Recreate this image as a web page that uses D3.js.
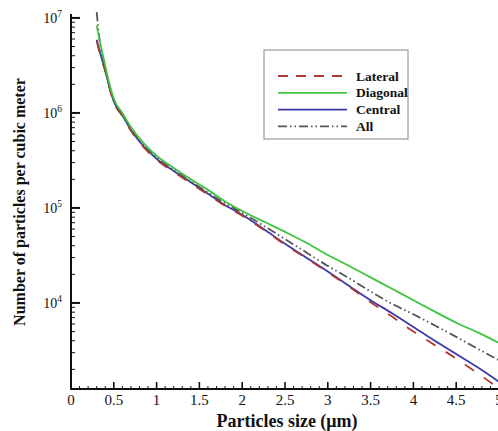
<!DOCTYPE html>
<html><head><meta charset="utf-8">
<script src="https://cdn.jsdelivr.net/npm/d3@7"></script>
<style>body{margin:0;background:#fff}svg{display:block}text{font-family:"Liberation Serif","Times New Roman",serif;fill:#111}</style>
</head><body>
<script>
const sizes = [0.3,0.35,0.4,0.45,0.5,0.6,0.7,0.8,0.9,1.0,1.2,1.4,1.6,1.8,2.0,2.25,2.5,2.75,3.0,3.25,3.5,3.75,4.0,4.25,4.5,4.75,5.0];
const lateral = [5.7e6,3.8e6,2.75e6,1.82e6,1.29e6,9.3e5,6.5e5,4.9e5,3.9e5,3.2e5,2.4e5,1.82e5,1.38e5,1.05e5,8.3e4,5.9e4,4.1e4,2.95e4,2.1e4,1.48e4,1.02e4,7.2e3,5.0e3,3.6e3,2.6e3,1.82e3,1.26e3];
const diagonal = [8.3e6,5.0e6,3.16e6,2.0e6,1.41e6,1.0e6,7.1e5,5.4e5,4.3e5,3.55e5,2.63e5,2.0e5,1.55e5,1.17e5,9.3e4,7.2e4,5.6e4,4.3e4,3.2e4,2.45e4,1.86e4,1.41e4,1.07e4,8.1e3,6.2e3,4.9e3,3.8e3];
const central = [5.9e6,3.98e6,2.82e6,1.86e6,1.32e6,9.5e5,6.6e5,5.0e5,3.98e5,3.3e5,2.45e5,1.86e5,1.41e5,1.07e5,8.5e4,6.0e4,4.2e4,3.0e4,2.14e4,1.51e4,1.07e4,7.8e3,5.6e3,4.0e3,2.9e3,2.1e3,1.48e3];
const all = [1.15e7,4.5e6,2.82e6,1.9e6,1.35e6,9.5e5,6.8e5,5.1e5,4.1e5,3.4e5,2.5e5,1.9e5,1.45e5,1.12e5,8.9e4,6.5e4,4.7e4,3.4e4,2.45e4,1.82e4,1.32e4,9.8e3,7.6e3,5.8e3,4.4e3,3.3e3,2.5e3];
const seriesNames = ["Lateral","Diagonal","Central","All"];
const xTickValues = [0,0.5,1,1.5,2,2.5,3,3.5,4,4.5,5];
const yDecades = [4,5,6,7];
const xTitle = "Particles size (μm)";
const yTitle = "Number of particles per cubic meter";

const W = 498, H = 431;
const svg = d3.select("body").append("svg").attr("width", W).attr("height", H);
const x = d3.scaleLinear().domain([0,5]).range([71,499]);
const y = d3.scaleLog().domain([1243, 1.1e7]).range([389,14]);

const styles = {
  Lateral: {color:"#b03a34", dash:"11,12", data: lateral},
  Diagonal:{color:"#3fc43f", dash:null, data: diagonal},
  Central: {color:"#3b3ba8", dash:null, data: central},
  All:     {color:"#555555", dash:"9,3,1.5,3,1.5,3", data: all}
};

svg.append("clipPath").attr("id","clip").append("rect").attr("x",71).attr("y",8).attr("width",430).attr("height",381);

const line = d3.line().x(d=>x(d[0])).y(d=>y(d[1])).curve(d3.curveMonotoneX);
const g = svg.append("g").attr("clip-path","url(#clip)");
["Central","Lateral","All","Diagonal"].forEach(name=>{
  const s = styles[name];
  g.append("path").datum(sizes.map((v,i)=>[v,s.data[i]]))
    .attr("d", line).attr("fill","none").attr("stroke", s.color)
    .attr("stroke-width", 1.8).attr("stroke-dasharray", s.dash);
});

// axes
const ax = svg.append("g").attr("stroke","#111");
ax.append("line").attr("x1",71).attr("x2",71).attr("y1",14).attr("y2",390).attr("stroke-width",2);
ax.append("line").attr("x1",70).attr("x2",500).attr("y1",389).attr("y2",389).attr("stroke-width",2);

// x ticks (major + minor, pointing up)
const xMinor = d3.range(0, 50.5, 1).map(d=>d/10);
xMinor.forEach(v=>{
  const major = xTickValues.some(t=>Math.abs(t-v)<1e-9);
  ax.append("line").attr("x1",x(v)).attr("x2",x(v)).attr("y1",389).attr("y2",389-(major?7:3)).attr("stroke-width",major?1.6:1);
});
xTickValues.forEach(v=>{
  svg.append("text").attr("x",x(v)).attr("y",405).attr("text-anchor","middle").attr("font-size",15).text(String(v));
});

// y ticks (pointing right)
const lo = Math.log10(y.domain()[0]), hi = Math.log10(y.domain()[1]);
for (let e=3; e<=7; e++){
  for (let m=1; m<=9; m++){
    const v = m*Math.pow(10,e);
    const lv = Math.log10(v);
    if (lv<lo || lv>hi) continue;
    ax.append("line").attr("x1",71).attr("x2",71+(m===1?9:4)).attr("y1",y(v)).attr("y2",y(v)).attr("stroke-width",m===1?2:1);
  }
}
yDecades.forEach(e=>{
  const t = svg.append("text").attr("x",62).attr("y",y(Math.pow(10,e))+5).attr("text-anchor","end").attr("font-size",14);
  t.append("tspan").text("10");
  t.append("tspan").attr("dy",-6).attr("font-size",9.5).text(String(e));
});

// titles
svg.append("text").attr("x",287).attr("y",427).attr("text-anchor","middle").attr("font-size",18).attr("font-weight","bold").text(xTitle);
svg.append("text").attr("transform","translate(25,202) rotate(-90)").attr("text-anchor","middle").attr("font-size",16).attr("font-weight","bold").text(yTitle);

// legend
const lg = svg.append("g");
lg.append("rect").attr("x",264).attr("y",50).attr("width",144).attr("height",89).attr("fill","#fff").attr("stroke","#888").attr("stroke-width",1);
seriesNames.forEach((name,i)=>{
  const s = styles[name];
  const yy = 76 + i*16.8;
  lg.append("line").attr("x1",278).attr("x2",347).attr("y1",yy).attr("y2",yy).attr("stroke",s.color).attr("stroke-width",1.8).attr("stroke-dasharray", name==="Lateral"?"10,8":s.dash);
  lg.append("text").attr("x",356).attr("y",yy+4.5).attr("font-size",13.5).attr("font-weight","bold").text(name);
});
</script>
</body></html>
